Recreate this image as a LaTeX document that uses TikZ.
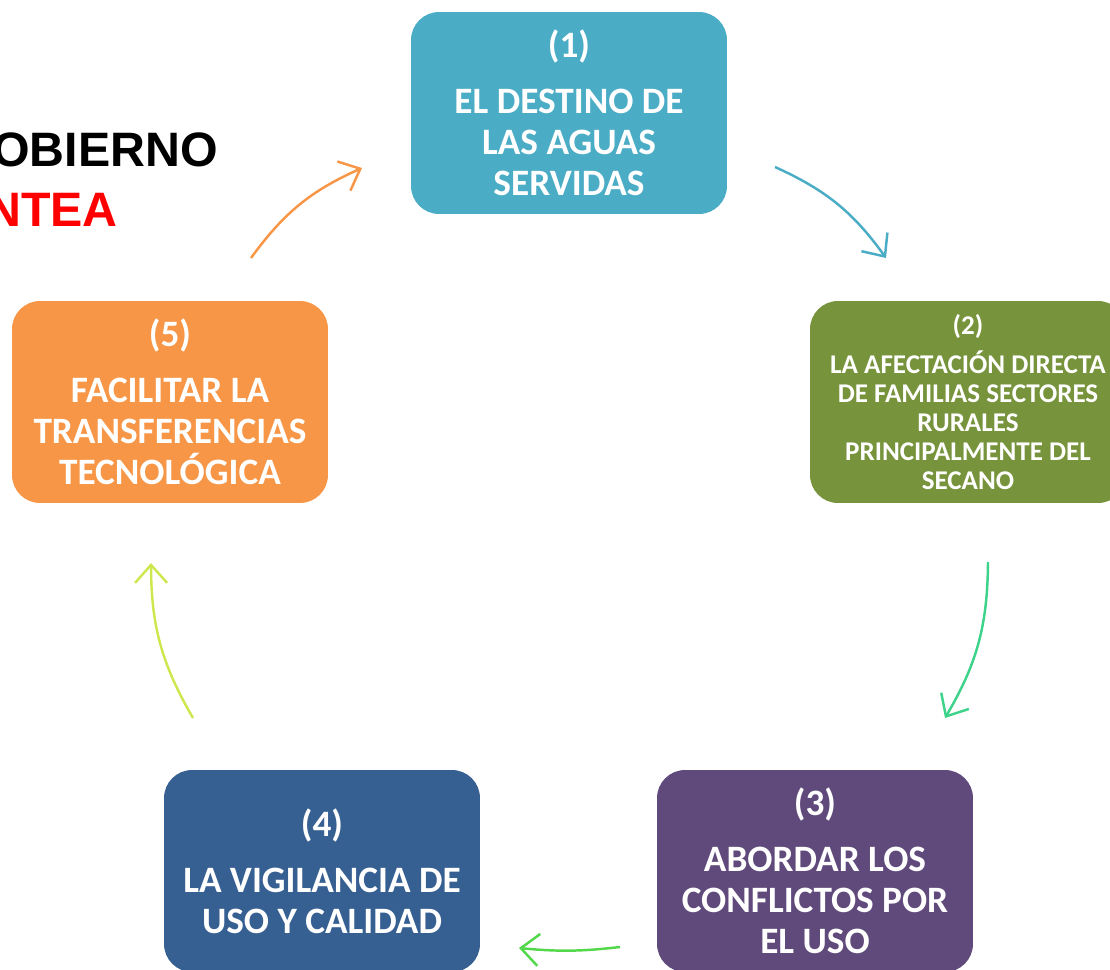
\documentclass[tikz,border=0pt]{standalone}
\usepackage{fontspec}
\setmainfont{Carlito}
\newfontfamily\headfont{Liberation Sans}
\usetikzlibrary{arrows.meta}
\definecolor{tealbox}{HTML}{4BACC6}
\definecolor{olivebox}{HTML}{77933C}
\definecolor{purplebox}{HTML}{604A7B}
\definecolor{bluebox}{HTML}{376092}
\definecolor{orangebox}{HTML}{F79646}
\definecolor{arrowtwo}{HTML}{3ED38A}
\definecolor{arrowthree}{HTML}{52D84A}
\definecolor{arrowfour}{HTML}{CDE84E}
\begin{document}
\begin{tikzpicture}[
      x = 0.02cm, y = -0.02cm,
      stage/.style = {
        rectangle,
        draw = none,
        fill = #1,
        text = white,
        align = center,
        font = \bfseries\fontsize{21.2}{23.3}\selectfont,
        minimum width = 6.32cm,
        minimum height = 4.04cm,
        rounded corners = 0.56cm,
        inner sep = 0,
      },
      cycle/.style = {
        draw = #1,
        line width = 1.4pt,
        -{Straight Barb[length=3.6mm, width=6.4mm, line width=1.4pt]},
        bend left = 15,
      },
      headline/.style = {
        anchor = base east,
        inner sep = 0,
        font = \headfont\bfseries\fontsize{27.5}{30}\selectfont,
      }
    ]
    \useasboundingbox (0,0) rectangle (1110,970);
    % title cut by the page edge
    \node[headline] (gob) at (218,166) {OBIERNO};
    \node[headline, text = red] (ntea) at (118,226) {NTEA};
    % the five stages
    \node[stage = tealbox] (destino) at (569,113)
      {(1)\\[0.3cm]EL DESTINO DE\\LAS AGUAS\\SERVIDAS};
    \node[stage = olivebox, font = \bfseries\fontsize{15.4}{16.5}\selectfont] (afecta) at (968,402)
      {(2)\\[0.2cm]LA AFECTACIÓN DIRECTA\\DE FAMILIAS SECTORES\\RURALES\\PRINCIPALMENTE DEL\\SECANO};
    \node[stage = purplebox] (conflictos) at (815,871)
      {(3)\\[0.3cm]ABORDAR LOS\\CONFLICTOS POR\\EL USO};
    \node[stage = bluebox] (vigilancia) at (322,871)
      {(4)\\[0.3cm]LA VIGILANCIA DE\\USO Y CALIDAD};
    \node[stage = orangebox] (transfer) at (170,402)
      {(5)\\[0.3cm]FACILITAR LA\\TRANSFERENCIAS\\TECNOLÓGICA};
    % arrow ends
    \coordinate (s12) at (775,167);
    \coordinate (e12) at (886,258);
    \coordinate (s23) at (988,562);
    \coordinate (e23) at (945,718);
    \coordinate (s34) at (620,947);
    \coordinate (e34) at (519,948);
    \coordinate (s45) at (193,718);
    \coordinate (e45) at (151,563);
    \coordinate (s51) at (251,258);
    \coordinate (e51) at (362,168);
    \draw[cycle = tealbox] (s12) to (e12);
    \draw[cycle = arrowtwo] (s23) to (e23);
    \draw[cycle = arrowthree, bend left = 6] (s34) to (e34);
    \draw[cycle = arrowfour] (s45) to (e45);
    \draw[cycle = orangebox] (s51) to (e51);
\end{tikzpicture}
\end{document}
